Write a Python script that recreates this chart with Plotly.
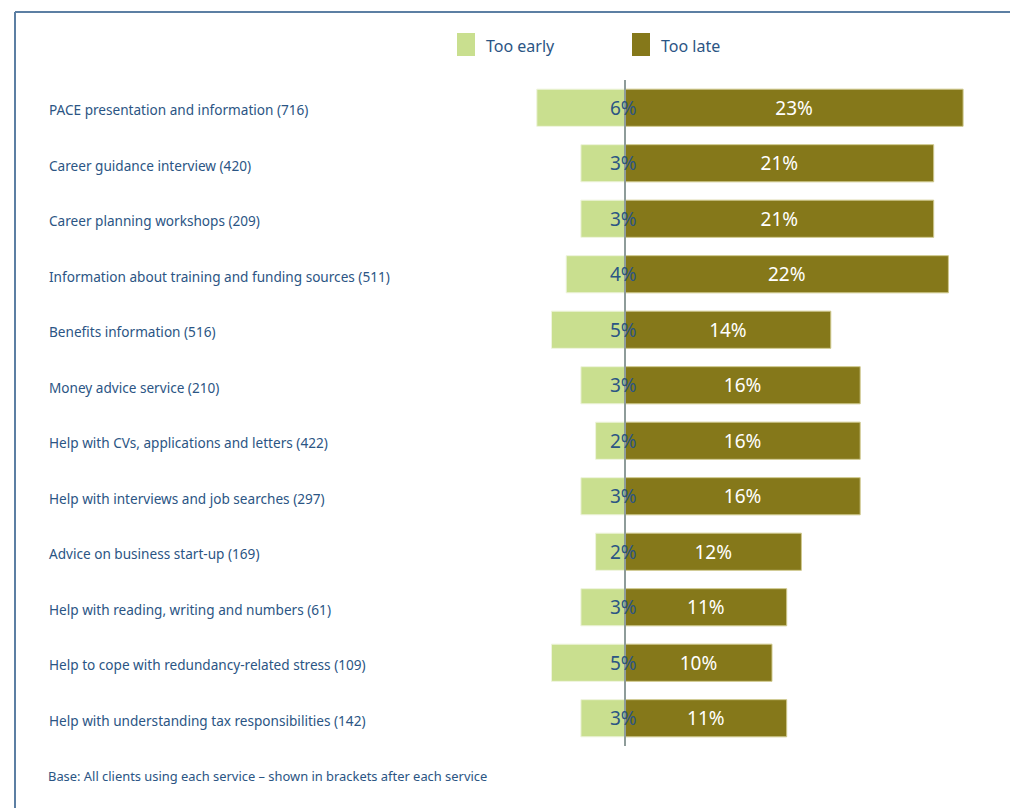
import plotly.graph_objects as go

services = [
    "PACE presentation and information (716)",
    "Career guidance interview (420)",
    "Career planning workshops (209)",
    "Information about training and funding sources (511)",
    "Benefits information (516)",
    "Money advice service (210)",
    "Help with CVs, applications and letters (422)",
    "Help with interviews and job searches (297)",
    "Advice on business start-up (169)",
    "Help with reading, writing and numbers (61)",
    "Help to cope with redundancy-related stress (109)",
    "Help with understanding tax responsibilities (142)",
]
too_early = [6, 3, 3, 4, 5, 3, 2, 3, 2, 3, 5, 3]
too_late = [23, 21, 21, 22, 14, 16, 16, 16, 12, 11, 10, 11]
footnote = "Base: All clients using each service \u2013 shown in brackets after each service"

W, H = 1010, 808
ML, MR, MT, MB = 480, 20, 80, 62
PW, PH = W - ML - MR, H - MT - MB
PX_PER_PCT = 14.7
ZERO_PX = 625
x0 = -(ZERO_PX - ML) / PX_PER_PCT
x1 = x0 + PW / PX_PER_PCT


def px(x):
    return (x - ML) / PW


def py(y):
    return (H - MB - y) / PH


LIGHT = "#c9df8f"
DARK = "#85781a"
BLUE = "#2b5584"
FONT = "Noto Sans"

fig = go.Figure()
fig.add_trace(go.Bar(
    y=services, x=[-v for v in too_early], orientation="h", name="Too early",
    marker=dict(color=LIGHT, line=dict(color="#eef4dc", width=1)), width=0.67,
    hoverinfo="skip",
))
fig.add_trace(go.Bar(
    y=services, x=too_late, orientation="h", name="Too late",
    marker=dict(color=DARK, line=dict(color="#cfc98e", width=1)), width=0.67,
    text=[f"{v}%" for v in too_late], textposition="inside",
    insidetextanchor="middle", textangle=0,
    textfont=dict(color="white", size=19, family=FONT),
    hoverinfo="skip",
))

annotations = []
for s, e in zip(services, too_early):
    annotations.append(dict(
        x=px(47), xref="paper", y=s, yref="y", text=s, showarrow=False,
        xanchor="left", yanchor="middle", yshift=-2,
        font=dict(family=FONT, size=13.6, color=BLUE),
    ))
    annotations.append(dict(
        x=0, xref="x", y=s, yref="y", text=f"{e}%", showarrow=False,
        xanchor="right", xshift=14, yanchor="middle",
        font=dict(family=FONT, size=19, color=BLUE),
    ))

annotations += [
    dict(x=px(484), xref="paper", y=py(46), yref="paper", text="Too early",
         showarrow=False, xanchor="left", yanchor="middle",
         font=dict(family=FONT, size=16, color=BLUE)),
    dict(x=px(659), xref="paper", y=py(46), yref="paper", text="Too late",
         showarrow=False, xanchor="left", yanchor="middle",
         font=dict(family=FONT, size=16, color=BLUE)),
    dict(x=px(46), xref="paper", y=py(776), yref="paper", text=footnote,
         showarrow=False, xanchor="left", yanchor="middle",
         font=dict(family=FONT, size=12.9, color=BLUE)),
]

shapes = [
    # frame lines along the top and left
    dict(type="line", xref="paper", yref="paper", x0=px(15), x1=px(1012),
         y0=py(12), y1=py(12), line=dict(color="#5c7fa3", width=2)),
    dict(type="line", xref="paper", yref="paper", x0=px(15), x1=px(15),
         y0=py(12), y1=py(812), line=dict(color="#5c7fa3", width=2)),
    # legend swatches
    dict(type="rect", xref="paper", yref="paper", x0=px(457), x1=px(475),
         y0=py(56), y1=py(33), fillcolor=LIGHT, line=dict(width=0)),
    dict(type="rect", xref="paper", yref="paper", x0=px(632), x1=px(650),
         y0=py(56), y1=py(33), fillcolor=DARK, line=dict(width=0)),
    # zero line
    dict(type="line", xref="x", yref="paper", x0=0, x1=0, y0=0, y1=1,
         line=dict(color="#8e9c9a", width=2), layer="above"),
]

fig.update_layout(
    width=W, height=H, margin=dict(l=ML, r=MR, t=MT, b=MB),
    barmode="relative", showlegend=False,
    plot_bgcolor="white", paper_bgcolor="white",
    xaxis=dict(range=[x0, x1], visible=False, fixedrange=True),
    yaxis=dict(autorange="reversed", visible=False, fixedrange=True),
    annotations=annotations, shapes=shapes,
    uniformtext=dict(minsize=10, mode="show"),
)

fig.write_html("out.html")
